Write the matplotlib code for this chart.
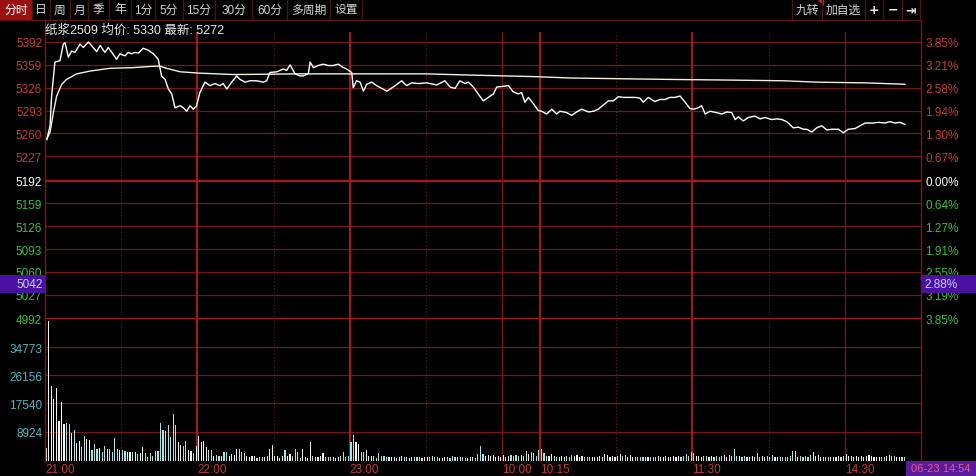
import matplotlib
matplotlib.use('Agg')
import matplotlib.pyplot as plt
import numpy as np
from matplotlib.patches import Rectangle, Polygon
from matplotlib.lines import Line2D
from matplotlib.transforms import blended_transform_factory

plt.rcParams['font.family'] = ['Liberation Sans', 'Noto Sans CJK SC', 'DejaVu Sans']

W, H = 976, 477

# minutes since 21:00 (trading minutes only) and last price
price_t = [0.7, 2.0, 2.6, 3.9, 5.9, 7.2, 7.9, 9.2, 10.5, 11.8, 13.8, 15.1, 17.1, 19.0, 20.4, 21.7,
           23.6, 24.9, 26.3, 28.2, 29.5, 31.5, 32.8, 34.1, 35.4, 36.8, 38.7, 40.7, 42.7, 44.6, 45.9,
           47.3, 48.6, 49.9, 51.2, 53.2, 54.5, 55.8, 57.1, 58.4, 59.7, 61.0, 63.0, 65.0, 67.0, 68.9,
           70.2, 71.6, 73.5, 75.5, 76.8, 78.8, 80.7, 83.4, 86.0, 87.3, 88.6, 91.3, 93.9, 95.2, 96.5,
           98.5, 100.4, 101.7, 103.7, 104.4, 105.7, 107.6, 109.6, 111.6, 113.5, 115.5, 117.5, 118.8,
           120.8, 121.4, 122.7, 124.1, 125.4, 126.7, 128.7, 130.6, 132.6, 134.6, 135.9, 137.9, 140.5,
           142.4, 144.4, 147.0, 150.3, 154.3, 157.5, 159.5, 161.5, 163.4, 165.4, 166.7, 168.7, 170.6,
           172.6, 174.6, 176.6, 177.9, 180.5, 182.5, 184.4, 186.4, 187.7, 189.0, 190.4, 192.3, 194.3,
           195.6, 197.6, 199.6, 201.5, 202.8, 205.5, 207.4, 209.4, 211.4, 214.0, 216.0, 217.9, 219.9,
           221.9, 223.8, 225.8, 227.8, 229.7, 232.4, 234.3, 235.6, 237.6, 240.2, 242.2, 244.2, 246.1,
           248.1, 250.1, 252.1, 254.0, 255.4, 257.3, 258.6, 260.0, 261.9, 264.5, 266.5, 268.5, 270.5,
           271.8, 273.1, 275.0, 277.0, 279.6, 281.6, 283.6, 286.2, 288.2, 290.2, 292.1, 294.7, 296.7,
           298.7, 300.0, 302.0, 303.9, 305.9, 307.9, 309.9, 312.5, 314.4, 316.4, 319.0, 321.0, 323.0,
           326.2, 328.2, 330.8, 332.8, 334.8, 336.7, 338.7]
price_v = [5251, 5271, 5314, 5363, 5365, 5389, 5391, 5370, 5379, 5377, 5389, 5384, 5392, 5384, 5378, 5387,
           5377, 5384, 5377, 5367, 5375, 5372, 5377, 5375, 5377, 5376, 5383, 5380, 5375, 5367, 5343,
           5338, 5324, 5317, 5297, 5300, 5297, 5292, 5300, 5295, 5300, 5319, 5334, 5329, 5332, 5329,
           5332, 5324, 5334, 5343, 5338, 5334, 5336, 5336, 5334, 5336, 5348, 5349, 5353, 5351, 5359,
           5346, 5343, 5343, 5346, 5363, 5355, 5358, 5360, 5358, 5358, 5360, 5355, 5353,
           5348, 5326, 5336, 5334, 5321, 5331, 5334, 5329, 5325, 5321, 5324, 5329, 5336,
           5329, 5333, 5332, 5333, 5330, 5336, 5327, 5325, 5336, 5332, 5334, 5327, 5317,
           5307, 5312, 5317, 5327, 5328, 5329, 5320, 5317, 5319, 5305, 5312, 5303, 5293,
           5292, 5288, 5295, 5288, 5292, 5290, 5286, 5291, 5295, 5291, 5292, 5295, 5301,
           5307, 5307, 5313, 5312, 5312, 5312, 5311, 5305, 5312, 5306, 5309, 5309, 5312,
           5312, 5314, 5305, 5296, 5295, 5297, 5300, 5288, 5292, 5290, 5288, 5291, 5290,
           5280, 5284, 5278, 5283, 5285, 5281, 5283, 5280, 5281, 5280, 5277, 5268, 5269,
           5266, 5266, 5262, 5268, 5271, 5265, 5266, 5266, 5261, 5266, 5267, 5271, 5275,
           5275, 5276, 5275, 5277, 5275, 5276, 5273]

avg_t = [0.7, 2.0, 3.3, 4.6, 6.6, 8.5, 12.5, 17.7, 25.6, 34.8, 42.7, 45.3, 47.9, 53.2, 61.0, 74.2,
         100.0, 150.0, 170.0, 193.0, 207.0, 245.0, 270.0, 291.0, 304.0, 323.0, 338.7]
avg_v = [5252, 5262, 5290, 5314, 5331, 5338, 5346, 5350, 5354, 5355, 5357, 5357, 5354, 5349, 5347, 5345,
         5346, 5346, 5344, 5342, 5340, 5338, 5337, 5336, 5334, 5333, 5331]

volume = [3860, 42830, 22840, 18780, 22130, 12180, 18070, 11170, 11670, 11170,
          8630, 9340, 5280, 5890, 4260, 7510, 6600, 6290, 3250, 5080,
          3550, 3860, 2540, 4470, 3550, 3550, 2540, 6900, 3550, 3250,
          3250, 2840, 2740, 2540, 2740, 2740, 2030, 2230, 4060, 2230,
          1220, 2230, 1520, 3050, 2840, 11570, 9340, 9140, 10960, 7310,
          14410, 10860, 5580, 4770, 4570, 6090, 3250, 3050, 2230, 4470,
          7510, 5580, 6090, 4260, 3250, 3250, 1520, 1830, 1520, 1320,
          2540, 2540, 1520, 2030, 1830, 3550, 3550, 2540, 2230, 1520,
          1220, 1520, 1520, 810, 1020, 1220, 1220, 1520, 3550, 4770,
          1520, 1520, 810, 1520, 3250, 1520, 2030, 1520, 3550, 2540,
          810, 3550, 1220, 810, 5790, 1520, 1220, 1220, 1520, 2230,
          1220, 1020, 1020, 1220, 810, 1220, 1520, 2740, 1220, 1520,
          5790, 7920, 5580, 5080, 2740, 2740, 3250, 1520, 1520, 1520,
          810, 2230, 1520, 1520, 1220, 1220, 1020, 1020, 810, 1220,
          1520, 1220, 1220, 810, 1020, 1220, 1020, 1220, 810, 1020,
          1020, 1220, 1520, 1020, 1220, 810, 810, 1020, 1020, 810,
          1520, 1020, 1220, 1020, 1020, 810, 810, 1220, 1220, 810,
          2030,
          4570, 2030, 1520, 1730, 1520, 1830, 1220, 1520, 1220, 1730,
          1220, 1520, 1730, 1520, 1730, 1520, 1730, 1520, 2840, 2030,
          2540, 2230, 1520, 3250, 3550, 2230, 1520, 1520, 2030, 1520,
          1220, 1220, 1520, 1220, 1520, 1220, 1730, 1520, 1730, 1220,
          1520, 1220, 1020, 1020, 1020, 1020, 1220, 1520, 1020, 2030,
          1730, 1220, 1520, 1220, 1520, 2030, 1520, 1730, 1220, 1730,
          1220, 1220, 1020, 1220, 1020, 1220, 1020, 1220, 1020, 1220,
          1520, 1020, 1220, 1520, 1220, 1020, 1520, 1220, 1520, 1220,
          1520, 2030, 1520, 2540, 2230, 1520, 1520, 1220, 1520, 1520,
          1220, 1520, 1220, 1520, 1020, 1520, 1730, 1220, 1730, 1520,
          3550, 1520, 1520, 1220, 1520, 1220, 1220, 1520, 1220, 2230,
          1220, 1520, 1220, 1520, 1220, 1730, 1220, 1220, 1020, 1220,
          1020, 1220, 1520, 3050, 2840, 1220, 1520, 1220, 1520, 1220,
          1730, 2540, 1520, 1730, 1220, 1020, 1220, 1020, 1220, 1020,
          1220, 1520, 1220, 1520, 2030, 1520, 1520, 1220, 1520, 1220,
          1520, 1020, 1520, 1730, 1520, 1020, 1220, 1220, 1020, 1220,
          1520, 1730, 1520, 1520, 1020, 1020, 1220, 1020]

price_ticks = [5392, 5359, 5326, 5293, 5260, 5227, 5192, 5159, 5126, 5093, 5060, 5027, 4992]
pct_labels = ['3.85%', '3.21%', '2.58%', '1.94%', '1.30%', '0.67%', '0.00%',
              '0.64%', '1.27%', '1.91%', '2.55%', '3.19%', '3.85%']
vol_ticks = [8924, 17540, 26156, 34773]
vol_top = 43389
prev_settle = 5192
session_len = 345
time_pos = [0, 60, 120, 180, 195, 255, 315]
time_labels = ['21:00', '22:00', '23:00', '10:00', '10:15', '11:30', '14:30']
solid_v = [60, 120, 195, 255]
thin_v = [180, 315]
dotted_v = [30, 90, 150, 225, 285]
cursor_price = 5042
cursor_pct = '2.88%'
title = '纸浆2509 均价: 5330 最新: 5272'
stamp = '06-23 14:54'

tools = ['分时', '日', '周', '月', '季', '年', '1分', '5分', '15分', '30分', '60分', '多周期', '设置']
tool_edges = [0, 32, 50, 70, 88, 109, 131, 155, 183, 215, 252, 287, 330, 362]
rtools = ['九转', '加自选', '+', '−', '⇥']
rtool_edges = [792, 822, 865, 883, 902, 920]

GRID = '#761616'
BRIGHT = '#a81818'
RED_TXT = '#c23c3c'
GREEN_TXT = '#3cbf3c'
CYAN_TXT = '#4fb8c0'


def frect(x0, y0, x1, y1):
    return [x0 / W, 1 - y1 / H, (x1 - x0) / W, (y1 - y0) / H]


def fx(x):
    return x / W


def fy(y):
    return 1 - y / H


fig = plt.figure(figsize=(W / 100, H / 100), dpi=100, facecolor='black')

# price pane
ax = fig.add_axes(frect(45, 33, 921, 320))
ax.set_facecolor('black')
ppu = (320 - 43) / (price_ticks[0] - price_ticks[-1])
ax.set_xlim(0, session_len)
ax.set_ylim(price_ticks[-1], price_ticks[0] + 10 / ppu)
for s in ax.spines.values():
    s.set_visible(False)
ax.set_xticks([])

tick_cols = [RED_TXT if p > prev_settle else ('white' if p == prev_settle else GREEN_TXT) for p in price_ticks]
ax.set_yticks(price_ticks, [str(p) for p in price_ticks])
ax.tick_params(axis='y', length=0, pad=2, labelsize=8.5)
for lab, c in zip(ax.get_yticklabels(), tick_cols):
    lab.set_color(c)

axr = ax.twinx()
axr.set_ylim(ax.get_ylim())
axr.set_yticks(price_ticks, pct_labels)
axr.tick_params(axis='y', length=0, pad=3, labelsize=8.5)
for lab, c in zip(axr.get_yticklabels(), tick_cols):
    lab.set_color(c)
for s in axr.spines.values():
    s.set_visible(False)

for p in price_ticks:
    if p == prev_settle or p == price_ticks[-1]:
        ax.axhline(p, color=BRIGHT, lw=1.6, zorder=1)
    else:
        ax.axhline(p, color=GRID, lw=0.9, zorder=1)

# volume pane
axv = fig.add_axes(frect(45, 320, 921, 461.7))
axv.set_facecolor('none')
axv.set_xlim(0, session_len)
axv.set_ylim(0, vol_top)
for s in axv.spines.values():
    s.set_visible(False)
axv.set_yticks(vol_ticks, [str(v) for v in vol_ticks])
axv.tick_params(axis='y', length=0, pad=2, labelsize=8.5, labelcolor=CYAN_TXT)
axv.set_xticks(time_pos, time_labels)
axv.tick_params(axis='x', length=0, pad=1.5, labelsize=8.5, labelcolor=RED_TXT)
for lab in axv.get_xticklabels():
    lab.set_ha('left')
for v in vol_ticks:
    axv.axhline(v, color=GRID, lw=0.9, zorder=1)

for a in (ax, axv):
    for m in solid_v:
        a.axvline(m, color=BRIGHT, lw=1.4, zorder=1)
    for m in thin_v:
        a.axvline(m, color='#7a1414', lw=0.9, zorder=1)
    for m in dotted_v:
        a.axvline(m, color='#5c2a2a', lw=0.8, ls=(0, (1, 2)), zorder=1)

# lines
ax.plot(avg_t, avg_v, color='#f2f0d8', lw=1.0, zorder=3)
ax.plot(price_t, price_v, color='white', lw=1.0, zorder=4)

# volume bars, white when price ticks up, cyan when down
mins = np.arange(len(volume))
p_at = np.interp(mins + 0.5, price_t, price_v)
chg = np.diff(p_at, prepend=p_at[0])
bar_cols = ['#f4f4f4' if d >= 0 else '#a8e4e4' for d in chg]
axv.bar(mins + 0.5, volume, width=0.45, color=bar_cols, linewidth=0, zorder=3)

# borders
for x in (45, 921):
    fig.add_artist(Line2D([fx(x), fx(x)], [fy(21), fy(462)], color='#8a1212', lw=1.0))
fig.add_artist(Line2D([0, fx(921)], [fy(21), fy(21)], color='#5a1414', lw=1.0))

# cursor boxes
half = 9 / ppu
bt = blended_transform_factory(fig.transFigure, ax.transData)
fig.add_artist(Rectangle((0, cursor_price - half), fx(45), 2 * half, transform=bt,
                         facecolor='#4a12a2', edgecolor='none', zorder=5))
fig.add_artist(Rectangle((fx(921), cursor_price - half), 1 - fx(921), 2 * half, transform=bt,
                         facecolor='#4a12a2', edgecolor='none', zorder=5))
fig.text(fx(43), 0, str(cursor_price), transform=bt, ha='right', va='center', fontsize=8.5,
         color='#c4d2f4', zorder=6).set_y(cursor_price)
fig.text(fx(924), 0, cursor_pct, transform=bt, ha='left', va='center', fontsize=8.5,
         color='#c4d2f4', zorder=6).set_y(cursor_price)

# title
fig.text(fx(45), fy(31), title, ha='left', va='center', fontsize=9, color='#ececec')

# toolbar
fig.add_artist(Rectangle((0, fy(20.5)), fx(tool_edges[1]), 20.5 / H, facecolor='#9c1010',
                         edgecolor='none'))
for i, t in enumerate(tools):
    cx = (tool_edges[i] + tool_edges[i + 1]) / 2
    fig.text(fx(cx), fy(10.5), t, ha='center', va='center', fontsize=8.5,
             color='white' if i == 0 else '#d6d6d6')
for e in tool_edges[1:]:
    fig.add_artist(Line2D([fx(e), fx(e)], [fy(1), fy(20)], color='#4a1414', lw=1.0))
for i, t in enumerate(rtools):
    cx = (rtool_edges[i] + rtool_edges[i + 1]) / 2
    if i < 2:
        fig.text(fx(cx), fy(10.5), t, ha='center', va='center', fontsize=8.5, color='#d6d6d6')
    else:
        fig.text(fx(cx), fy(10.5), t, ha='center', va='center', fontsize=9, color='#e8e8e8',
                 fontweight='bold', family=['DejaVu Sans'])
for e in rtool_edges:
    fig.add_artist(Line2D([fx(e), fx(e)], [fy(1), fy(20)], color='#4a1414', lw=1.0))
fig.add_artist(Polygon([[fx(817), fy(0)], [fx(824), fy(0)], [fx(824), fy(7)]], closed=True,
                       facecolor='#e02828', edgecolor='none'))

# timestamp box
fig.add_artist(Rectangle((fx(906), 0), 1 - fx(906), 15 / H, facecolor='#5a1c9c', edgecolor='none'))
fig.text(fx(941), fy(469.5), stamp, ha='center', va='center', fontsize=8, color='#e85a86')

fig.savefig('out.png', dpi=100, facecolor='black')
